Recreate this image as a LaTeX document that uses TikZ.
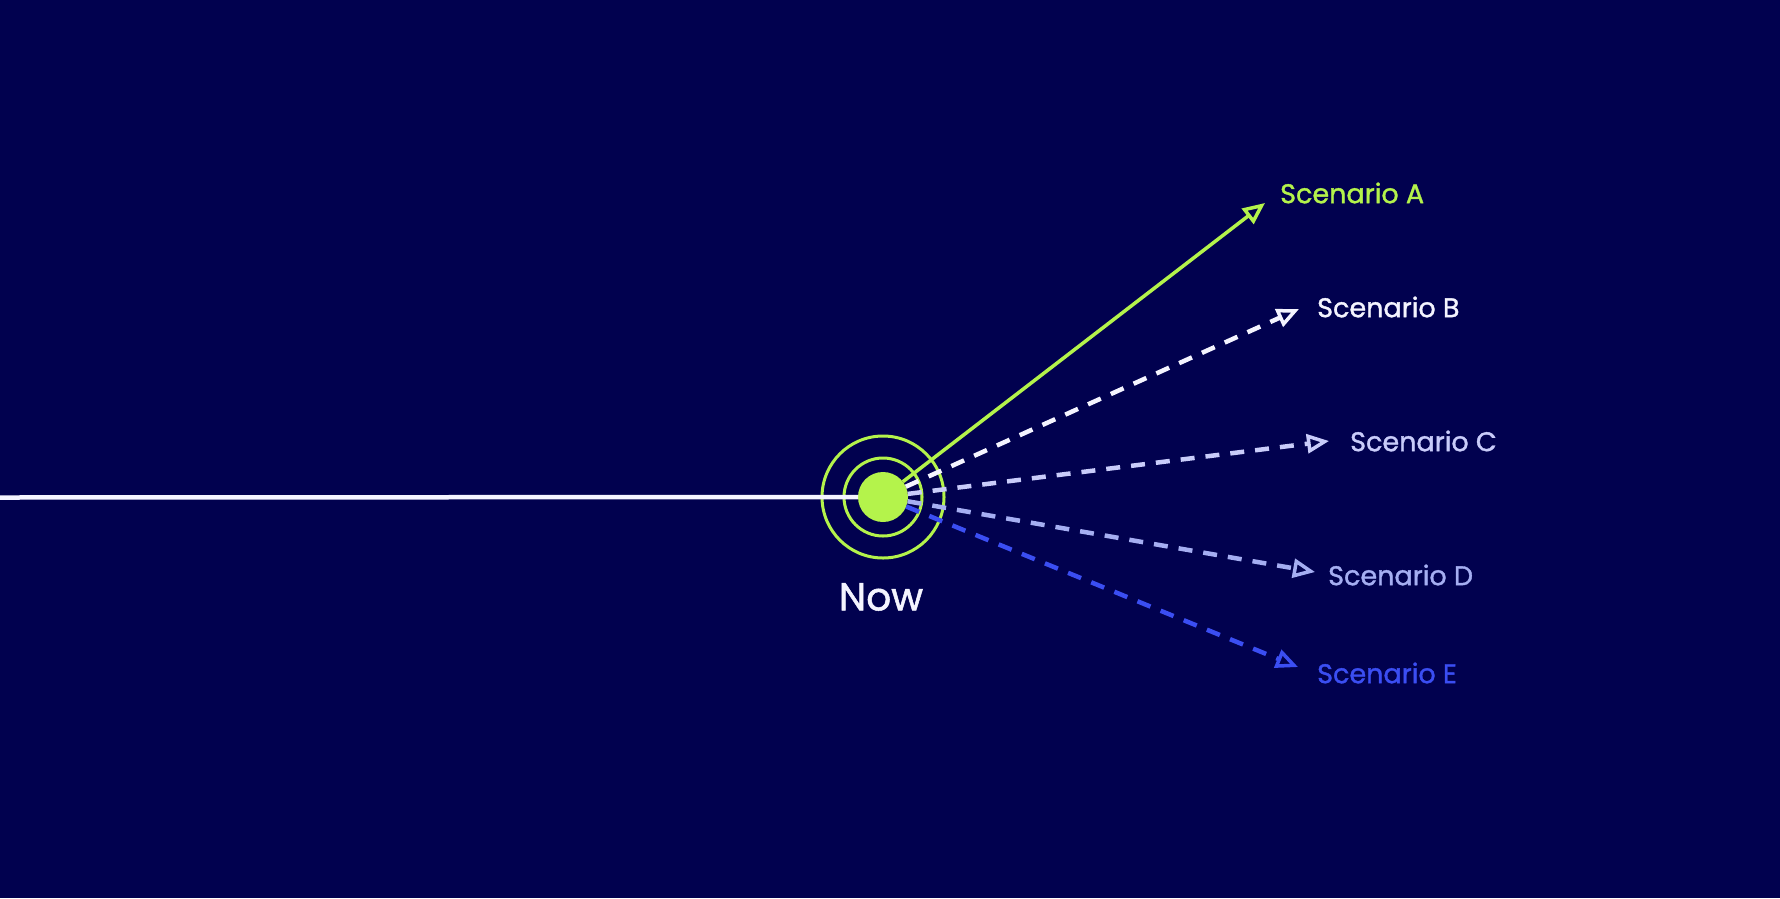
\documentclass[tikz,border=0pt]{standalone}
\usepackage{fontspec}
\setmainfont{Poppins}
\newfontfamily\scfont{Poppins}[FakeBold=1.3]
\usetikzlibrary{arrows.meta}
\definecolor{bg}{HTML}{01014F}
\definecolor{lime}{HTML}{B4F34B}
\definecolor{scB}{HTML}{F4F4FF}
\definecolor{scC}{HTML}{C9CCFA}
\definecolor{scD}{HTML}{A5AEF2}
\definecolor{scE}{HTML}{3B4EF2}
\tikzset{
  scen/.style={-{Triangle[open,length=22pt,width=19pt,line width=3.5pt]}, line width=4.5pt},
  dashline/.style={scen, dash pattern=on 14pt off 11pt},
  lbl/.style={anchor=west, inner sep=0pt, font=\scfont\fontsize{27}{30}\selectfont},
}
\begin{document}
\begin{tikzpicture}[x=1pt,y=-1pt]
  \fill[bg] (0,0) rectangle (1780,898);
  \useasboundingbox (0,0) rectangle (1780,898);
  % rings and dot
  \node[circle, draw=lime, line width=3pt, minimum size=122pt, inner sep=0pt] (outer) at (883,497) {};
  \node[circle, draw=lime, line width=3pt, minimum size=78pt, inner sep=0pt] (inner) at (883,497) {};
  \coordinate (left) at (0,497.5);
  \node[circle, fill=lime, minimum size=50pt, inner sep=0pt, outer sep=0pt] (dot) at (883,497) {};
  \draw[scB, line width=4.5pt] (left) -- (dot.west);
  % tips
  \coordinate (tA) at (1265,203);
  \coordinate (tB) at (1299,309);
  \coordinate (tC) at (1329,441);
  \coordinate (tD) at (1315,572);
  \coordinate (tE) at (1298,667);
  \draw[scen, lime, line width=3.5pt] (dot) -- (tA);
  \draw[dashline, scB] (dot) -- (tB);
  \draw[dashline, scC] (dot) -- (tC);
  \draw[dashline, scD] (dot) -- (tD);
  \draw[dashline, scE] (dot) -- (tE);
  % labels
  \node[lbl, text=lime] (lA) at (1280,193) {Scenario A};
  \node[lbl, text=scB] (lB) at (1317,307) {Scenario B};
  \node[lbl, text=scC] (lC) at (1350,441) {Scenario C};
  \node[lbl, text=scD] (lD) at (1328,575) {Scenario D};
  \node[lbl, text=scE] (lE) at (1317,673) {Scenario E};
  \node[inner sep=0pt, text=scB, font=\scfont\fontsize{39}{44}\selectfont] (now) at (881,597) {Now};
\end{tikzpicture}
\end{document}
